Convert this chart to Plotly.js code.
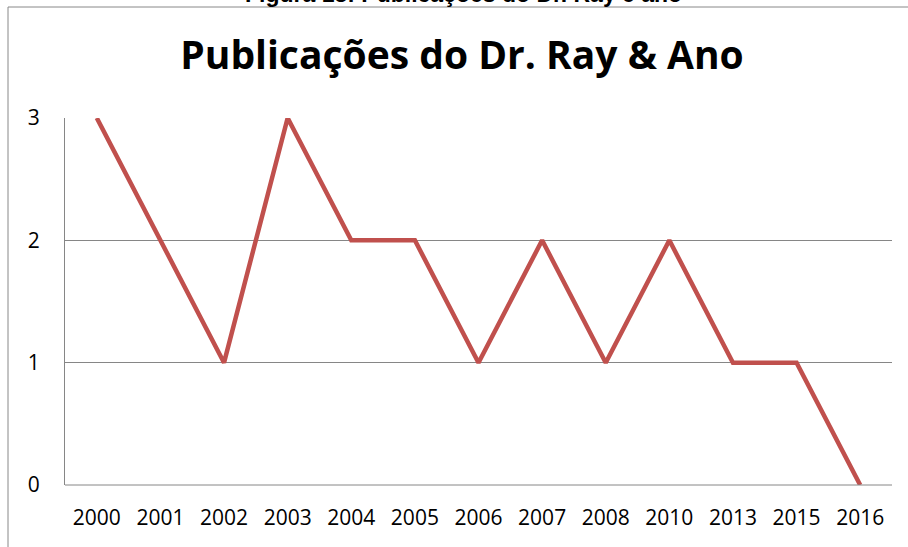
<!DOCTYPE html>
<html>
<head>
<meta charset="utf-8">
<script src="https://cdn.plot.ly/plotly-3.0.1.min.js"></script>
<style>
html, body { margin: 0; padding: 0; background: #ffffff; }
#chart { width: 908px; height: 547px; }
</style>
</head>
<body>
<div id="chart"></div>
<script>
const years = ["2000", "2001", "2002", "2003", "2004", "2005", "2006", "2007", "2008", "2010", "2013", "2015", "2016"];
const publications = [3, 2, 1, 3, 2, 2, 1, 2, 1, 2, 1, 1, 0];
const yTicks = [0, 1, 2, 3];
const chartTitle = "Publicações do Dr. Ray &amp; Ano";
const caption = "Figura 13: Publicações do Dr. Ray e ano";

const FONT = "'Open Sans', Lato, sans-serif";

const trace = {
  x: years,
  y: publications,
  type: "scatter",
  mode: "lines",
  line: { color: "#C0504D", width: 4.5 },
  hoverinfo: "x+y"
};

const layout = {
  width: 908,
  height: 547,
  margin: { l: 65, r: 16, t: 118, b: 62 },
  paper_bgcolor: "#ffffff",
  plot_bgcolor: "#ffffff",
  showlegend: false,
  font: { family: FONT, color: "#000000", size: 21 },
  title: {
    text: "<b>" + chartTitle + "</b>",
    font: { family: FONT, size: 39, color: "#000000" },
    x: 462 / 908, xref: "container", xanchor: "center",
    y: 1 - 55 / 547, yref: "container", yanchor: "middle"
  },
  xaxis: {
    type: "category",
    range: [-0.5, years.length - 0.5],
    showgrid: false,
    zeroline: false,
    showline: false,
    ticks: "outside",
    ticklen: 14,
    tickcolor: "rgba(0,0,0,0)",
    tickfont: { family: FONT, size: 21, color: "#000000" }
  },
  yaxis: {
    range: [0, 3],
    tickvals: yTicks,
    showgrid: true,
    gridcolor: "#868686",
    gridwidth: 1,
    zeroline: false,
    showline: true,
    linecolor: "#868686",
    linewidth: 1,
    ticks: "outside",
    ticklen: 20,
    tickcolor: "rgba(0,0,0,0)",
    tickfont: { family: FONT, size: 21, color: "#000000" }
  },
  shapes: [
    {
      type: "line", xref: "paper", yref: "paper",
      x0: 0, x1: 1, y0: 0, y1: 0,
      line: { color: "#868686", width: 1 }
    },
    {
      type: "rect", xref: "paper", yref: "paper",
      x0: (8 - 65) / 827, x1: 1.2,
      y0: -0.3, y1: (485 - 7) / 367,
      line: { color: "#888888", width: 1 },
      fillcolor: "rgba(0,0,0,0)",
      layer: "below"
    }
  ],
  annotations: [
    {
      text: "<b>" + caption + "</b>",
      xref: "paper", yref: "paper",
      x: (463 - 65) / 827, y: (485 - 9) / 367,
      xanchor: "center", yanchor: "bottom",
      showarrow: false,
      font: { family: "'Liberation Sans', Arial, sans-serif", size: 23, color: "#000000" }
    }
  ]
};

Plotly.newPlot("chart", [trace], layout, { displayModeBar: false, responsive: false });
</script>
</body>
</html>
